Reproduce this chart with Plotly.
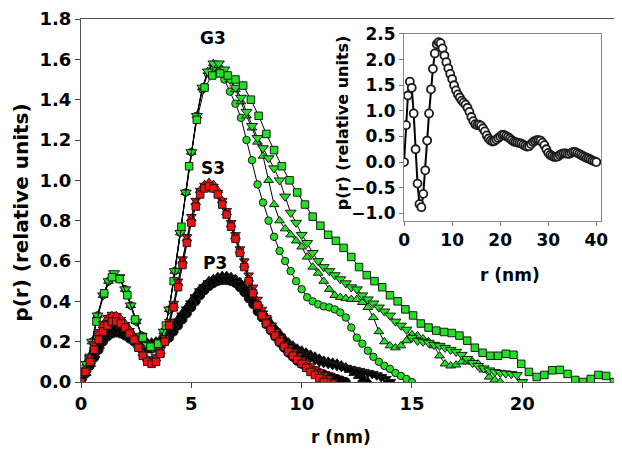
import numpy as np
import plotly.graph_objects as go

# ---------------- data ----------------
# G3 (green)
g3_circ_rmax = 15.0
g3_circ = [0, .09, .2, .33, .43, .5, .53, .51, .46, .38, .3, .23, .185, .17, .19, .25, .36, .55, .74, .94,
           1.14, 1.32, 1.45, 1.53, 1.56, 1.54, 1.5, 1.44, 1.38, 1.31, 1.2, 1.1, .98, .89, .8, .72, .65, .6, .55, .5,
           .46, .42, .4, .385, .375, .37, .36, .345, .32, .27, .22, .19, .155, .125, .1, .08, .065, .045, .03, .015, 0]

g3_triup_rmax = 19.0
g3_triup = [0, .09, .2, .33, .43, .5, .53, .51, .46, .38, .3, .23, .185, .17, .19, .25, .36, .55, .74, .94,
            1.14, 1.32, 1.46, 1.54, 1.58, 1.57, 1.54, 1.5, 1.45, 1.39, 1.32, 1.26, 1.19, 1.12, 1.0, .88, .8, .76, .73, .7,
            .67, .62, .57, .54, .5, .46, .43, .42, .415, .41, .41, .395, .37, .32, .25, .2, .18, .17, .18, .205,
            .235, .23, .215, .2, .18, .13, .09, .08, .085, .1, .1, .1, .09, .06, .025, .01, 0]

g3_tridn_rmax = 20.0
g3_tridn = [0, .09, .2, .33, .43, .5, .54, .52, .46, .38, .3, .23, .185, .17, .19, .25, .36, .55, .74, .94,
            1.14, 1.32, 1.46, 1.54, 1.58, 1.58, 1.55, 1.5, 1.46, 1.41, 1.34, 1.27, 1.21, 1.16, 1.11, 1.06, 1.0, .92, .84, .79,
            .73, .69, .64, .6, .57, .55, .53, .51, .49, .47, .46, .43, .41, .39, .37, .35, .33, .3, .28, .26,
            .22, .205, .2, .195, .185, .18, .17, .16, .15, .135, .115, .095, .08, .068, .058, .05, .046, .043, .04, .035, 0]

g3_sq_rmax = 24.15
g3_sq = [0, .12, .3, .44, .52, .51, .43, .31, .22, .175, .19, .28, .5, .77, 1.07, 1.3, 1.46, 1.52, 1.53, 1.52,
         1.5, 1.47, 1.4, 1.32, 1.23, 1.15, 1.07, 1.0, .94, .88, .82, .775, .73, .7, .665, .62, .57, .53, .5, .47,
         .43, .4, .36, .33, .29, .27, .255, .248, .243, .23, .205, .17, .145, .13, .13, .14, .135, .09, .05, .025,
         .035, .058, .06, .04, .01, 0, .015, .035, .03, 0]

# S3 (red)
s3_sq_rmax = 11.0
s3_sq = [0, .05, .1, .16, .21, .25, .28, .3, .3, .29, .27, .24, .21, .17, .13, .1, .09, .1, .14, .2,
         .28, .37, .47, .58, .69, .79, .87, .93, .96, .97, .96, .93, .88, .83, .77, .71, .64, .57, .5, .44,
         .38, .33, .29, .26, .23, .2, .175, .15, .13, .11, .09, .07, .05, .035, .02, 0]

s3_triup_rmax = 11.2
s3_triup = [0, .06, .12, .18, .24, .28, .315, .33, .33, .315, .29, .26, .22, .18, .14, .115, .105, .115, .15, .21,
            .29, .38, .49, .6, .71, .81, .89, .95, .98, .99, .98, .95, .9, .84, .78, .72, .65, .58, .51, .45,
            .39, .34, .3, .265, .235, .205, .18, .155, .135, .115, .095, .08, .065, .05, .035, .02, 0]

s3_tridn_rmax = 11.4
s3_tridn = [0, .06, .12, .19, .25, .29, .32, .335, .33, .31, .285, .255, .215, .175, .14, .115, .11, .125, .16, .22,
            .3, .39, .5, .61, .72, .82, .9, .95, .975, .98, .97, .94, .9, .85, .79, .73, .66, .6, .53, .47,
            .41, .36, .32, .28, .25, .22, .19, .17, .15, .13, .11, .095, .08, .065, .05, .035, .02, 0]

# P3 (black)
p3_tridn_rmax = 14.0
p3_tridn = [0, .04, .08, .13, .17, .21, .24, .255, .26, .255, .245, .23, .215, .2, .19, .185, .185, .19, .2, .22,
            .24, .27, .3, .33, .36, .39, .42, .45, .47, .49, .5, .51, .515, .515, .51, .5, .485, .46, .43, .4,
            .37, .34, .31, .28, .25, .225, .2, .18, .165, .15, .14, .13, .12, .11, .1, .095, .09, .085, .08, .075,
            .07, .065, .06, .055, .05, .045, .04, .033, .025, .015, 0]

p3_circ_rmax = 12.0
p3_circ = [0, .04, .08, .12, .16, .2, .225, .24, .245, .24, .23, .215, .2, .185, .172, .165, .165, .17, .18, .2,
           .22, .25, .28, .31, .34, .37, .4, .43, .455, .475, .49, .5, .505, .505, .5, .49, .47, .445, .415, .385,
           .35, .32, .285, .255, .225, .195, .17, .145, .125, .105, .09, .075, .065, .055, .045, .038, .03, .023, .015, .008, 0]

p3_triup_rmax = 13.0
p3_triup = [0, .045, .09, .135, .18, .22, .25, .265, .27, .265, .255, .24, .225, .21, .2, .195, .195, .2, .21, .23,
            .255, .28, .31, .34, .37, .4, .43, .46, .48, .5, .51, .52, .525, .525, .52, .51, .495, .47, .44, .41,
            .38, .35, .32, .29, .265, .24, .215, .195, .18, .165, .155, .145, .135, .125, .115, .105, .1, .095, .09, .082,
            .072, .06, .045, .03, .015, 0]

# inset (open circles)
inset_rmax = 40.0
inset_p = [0.0, .72, 1.3, 1.57, 1.45, .95, .25, -.42, -.82, -.88, -.62, -.16, .42, .95, 1.42, 1.82, 2.12, 2.3, 2.34, 2.32,
           2.22, 2.08, 1.95, 1.83, 1.72, 1.62, 1.5, 1.4, 1.32, 1.26, 1.2, 1.16, 1.12, 1.06, .98, .88, .8, .74, .72, .73,
           .71, .66, .6, .52, .46, .42, .4, .41, .44, .47, .5, .53, .53, .51, .49, .46, .43, .4, .39, .38,
           .37, .36, .34, .32, .3, .31, .35, .39, .41, .43, .43, .42, .38, .33, .25, .18, .14, .12, .1, .1,
           .11, .14, .16, .17, .17, .16, .16, .18, .2, .2, .18, .16, .14, .12, .1, .08, .07, .05, .03, .015, 0.0]

main_xticks = [0, 5, 10, 15, 20]
main_yticks = [0.0, 0.2, 0.4, 0.6, 0.8, 1.0, 1.2, 1.4, 1.6, 1.8]
inset_xticks = [0, 10, 20, 30, 40]
inset_yticks = [-1.0, -0.5, 0.0, 0.5, 1.0, 1.5, 2.0, 2.5]
group_labels = ["G3", "S3", "P3"]
group_label_pos = [(5.98, 1.705), (5.98, 1.061), (6.07, 0.59)]

# ---------------- figure ----------------
GREEN = "#22E022"
RED = "#EE1111"
BLACK = "#000000"
EDGE = "#1a1a1a"
FONT = "DejaVu Sans"

fig = go.Figure()


def add(vals, rmax, color, symbol, size, xa="x", ya="y", fill=None, lw=1.0, mlw=1.0):
    r = np.linspace(0, rmax, len(vals))
    fig.add_trace(go.Scatter(
        x=r, y=vals, mode="lines+markers", xaxis=xa, yaxis=ya,
        line=dict(color="#000000", width=lw),
        marker=dict(symbol=symbol, size=size, color=fill if fill else color,
                    line=dict(color=EDGE, width=mlw)),
        showlegend=False, hoverinfo="skip"))


# black P3 first
add(p3_circ, p3_circ_rmax, BLACK, "circle", 9)
add(p3_triup, p3_triup_rmax, BLACK, "triangle-up", 10)
add(p3_tridn, p3_tridn_rmax, BLACK, "triangle-down", 10)
# green G3
add(g3_circ, g3_circ_rmax, GREEN, "circle", 7.5)
add(g3_triup, g3_triup_rmax, GREEN, "triangle-up", 8.5)
add(g3_tridn, g3_tridn_rmax, GREEN, "triangle-down", 9.5)
add(g3_sq, g3_sq_rmax, GREEN, "square", 7.5)
# red S3
add(s3_tridn, s3_tridn_rmax, RED, "triangle-down", 8.5)
add(s3_triup, s3_triup_rmax, RED, "triangle-up", 8.5)
add(s3_sq, s3_sq_rmax, RED, "square", 7.5)

# inset
add(inset_p, inset_rmax, BLACK, "circle", 8, xa="x2", ya="y2", fill="#FFFFFF", lw=2, mlw=1.8)


def label(x, y, text, size, xref="paper", yref="paper", angle=0):
    fig.add_annotation(x=x, y=y, xref=xref, yref=yref, text=text, showarrow=False,
                       xanchor="center", yanchor="middle", textangle=angle,
                       font=dict(family=FONT, size=size, color="black", weight="bold"))


for txt, (gx, gy) in zip(group_labels, group_label_pos):
    label(gx, gy, txt, 17, xref="x", yref="y")

# axis titles
label(0.487, -0.1515, "r (nm)", 17)
label(-0.113, 0.4656, "p(r) (relative units)", 20, angle=-90)
label(0.803, 0.2948, "r (nm)", 17)
label(0.491, 0.7135, "p(r) (relative units)", 16, angle=-90)

tickfont_main = dict(family=FONT, size=18, color="black", weight="bold")
tickfont_inset = dict(family=FONT, size=17, color="black", weight="bold")

# the page body has an 8px default margin, so the figure is 8px smaller and shifted
fig.update_layout(
    width=614, height=450,
    margin=dict(l=73, r=7, t=11, b=76, autoexpand=False),
    paper_bgcolor="white", plot_bgcolor="white",
    showlegend=False,
    xaxis=dict(range=[0, 24.2], tickvals=main_xticks, ticks="outside", ticklen=5, tickwidth=1,
               tickcolor="#444", showline=True, linecolor="#555", linewidth=1, mirror=True,
               showgrid=False, zeroline=False, tickfont=tickfont_main, ticklabeloverflow="allow"),
    yaxis=dict(range=[0, 1.8], tickvals=main_yticks, tickformat=".1f", ticks="outside", ticklen=5,
               tickwidth=1, tickcolor="#444", showline=True, linecolor="#555", linewidth=1, mirror=True,
               showgrid=False, zeroline=False, tickfont=tickfont_main, ticklabeloverflow="allow"),
    xaxis2=dict(domain=[0.605, 0.974], anchor="y2", range=[0, 41], tickvals=inset_xticks,
                ticks="outside", ticklen=4, tickcolor="#777", showline=True, linecolor="#888",
                linewidth=1, mirror=True, showgrid=False, zeroline=False, tickfont=tickfont_inset,
                ticklabeloverflow="allow"),
    yaxis2=dict(domain=[0.4435, 0.9587], anchor="x2", range=[-1.15, 2.5], tickvals=inset_yticks,
                tickformat=".1f", ticks="outside", ticklen=4, tickcolor="#777", showline=True,
                linecolor="#888", linewidth=1, mirror=True, showgrid=False, zeroline=False,
                tickfont=tickfont_inset, ticklabeloverflow="allow"),
)

fig.write_html("out.html")
